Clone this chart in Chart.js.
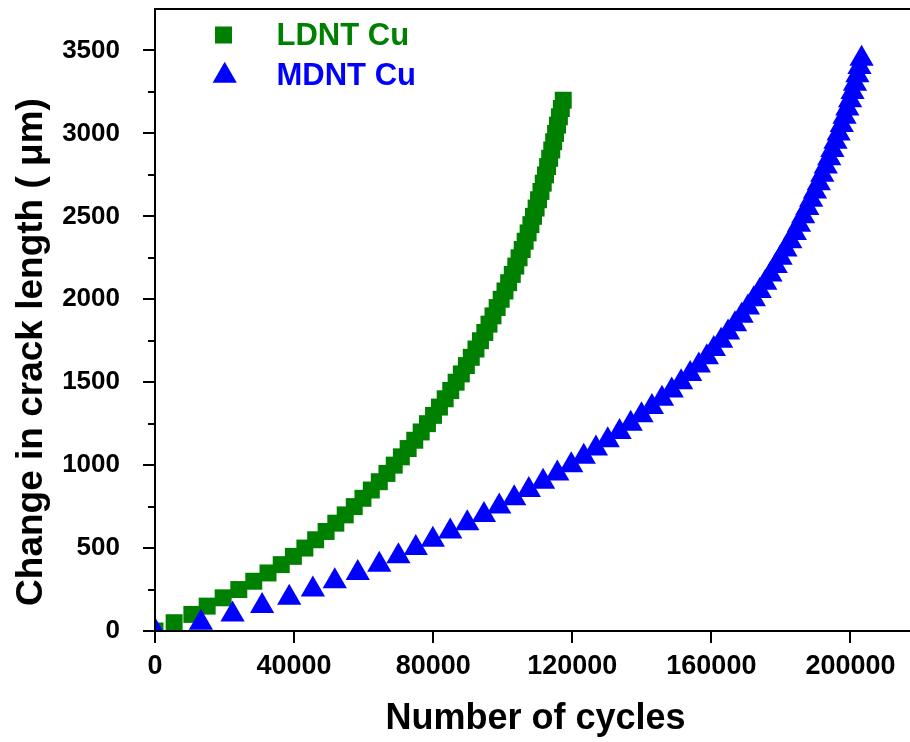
<!DOCTYPE html>
<html>
<head>
<meta charset="utf-8">
<script src="https://cdn.jsdelivr.net/npm/chart.js@4/dist/chart.umd.min.js"></script>
<style>
  html, body { margin: 0; padding: 0; background: #fff; overflow: hidden; }
  canvas { display: block; }
</style>
</head>
<body>
<canvas id="c" width="920" height="742"></canvas>
<script>
// Crack length change (µm) against number of cycles for two Cu conditions
const ldntCrack = [
  0, 50, 100, 150, 200, 250, 300, 350, 400, 450,
  500, 550, 600, 650, 700, 750, 800, 850, 900, 950,
  1000, 1050, 1100, 1150, 1200, 1250, 1300, 1350, 1400, 1450,
  1500, 1550, 1600, 1650, 1700, 1750, 1800, 1850, 1900, 1950,
  2000, 2050, 2100, 2150, 2200, 2250, 2300, 2350, 2400, 2450,
  2500, 2550, 2600, 2650, 2700, 2750, 2800, 2850, 2900, 2950,
  3000, 3050, 3100, 3150, 3200
];
const ldntCycles = [
  0, 5500, 10600, 15000, 19600, 24100, 28400, 32500, 36300, 39800,
  43100, 46200, 49200, 52000, 54700, 57300, 59800, 62200, 64500, 66700,
  68800, 70850, 72800, 74700, 76550, 78350, 80100, 81800, 83450, 85050,
  86600, 88100, 89550, 90950, 92300, 93600, 94850, 96050, 97200, 98400,
  99550, 100650, 101700, 102750, 103750, 104700, 105600, 106450, 107300, 108100,
  108850, 109600, 110300, 111000, 111650, 112300, 112900, 113500, 114100, 114650,
  115200, 115750, 116300, 116850, 117400
];
const mdntCrack = [
  0, 50, 100, 150, 200, 250, 300, 350, 400, 450,
  500, 550, 600, 650, 700, 750, 800, 850, 900, 950,
  1000, 1050, 1100, 1150, 1200, 1250, 1300, 1350, 1400, 1450,
  1500, 1550, 1600, 1650, 1700, 1750, 1800, 1850, 1900, 1950,
  2000, 2050, 2100, 2150, 2200, 2250, 2300, 2350, 2400, 2450,
  2500, 2550, 2600, 2650, 2700, 2750, 2800, 2850, 2900, 2950,
  3000, 3050, 3100, 3150, 3200, 3250, 3300, 3350, 3400, 3450
];
const mdntCycles = [
  0, 13200, 22300, 30800, 38600, 45400, 51700, 58300, 64500, 70000,
  75000, 79900, 84900, 89800, 94600, 99000, 103300, 107500, 111600, 115700,
  119700, 123300, 126800, 130200, 133600, 136800, 139900, 142900, 145800, 148600,
  151300, 153900, 156400, 158700, 160700, 162800, 164800, 166800, 168700, 170500,
  172200, 173900, 175500, 177000, 178500, 179900, 181300, 182700, 184000, 185200,
  186400, 187600, 188700, 189800, 190900, 191900, 192900, 193900, 194800, 195700,
  196600, 197500, 198300, 199100, 199900, 200600, 201300, 202000, 202600, 203200
];

const xTickValues = [0, 40000, 80000, 120000, 160000, 200000];
const yTickValues = [0, 500, 1000, 1500, 2000, 2500, 3000, 3500];
const yMinorValues = [250, 750, 1250, 1750, 2250, 2750, 3250];

const seriesNames = ['LDNT Cu', 'MDNT Cu'];
const xTitle = 'Number of cycles';
const yTitle = 'Change in crack length ( \u03bcm)';

const GREEN = '#008000';
const BLUE = '#0000ff';
const FONT = '"Liberation Sans", Arial, sans-serif';

const toPoints = (xs, ys) => xs.map((x, i) => ({ x: x, y: ys[i] }));

// Frame, tick marks, axis titles and the inset legend
const framePlugin = {
  id: 'frame',
  afterDraw(chart) {
    const ctx = chart.ctx;
    const area = chart.chartArea;
    const xs = chart.scales.x;
    const ys = chart.scales.y;
    ctx.save();
    ctx.strokeStyle = '#000';
    ctx.lineWidth = 2;
    ctx.beginPath();
    ctx.moveTo(area.left, area.top);
    ctx.lineTo(area.right, area.top);
    ctx.moveTo(area.left, area.top - 1);
    ctx.lineTo(area.left, area.bottom + 1);
    ctx.moveTo(area.left - 1, area.bottom);
    ctx.lineTo(area.right, area.bottom);
    // x ticks
    xTickValues.forEach(v => {
      const px = Math.round(xs.getPixelForValue(v));
      ctx.moveTo(px, area.bottom);
      ctx.lineTo(px, area.bottom + 12);
    });
    // y ticks, major and minor
    yTickValues.forEach(v => {
      const py = Math.round(ys.getPixelForValue(v));
      ctx.moveTo(area.left - 12, py);
      ctx.lineTo(area.left, py);
    });
    yMinorValues.forEach(v => {
      const py = Math.round(ys.getPixelForValue(v));
      ctx.moveTo(area.left - 7, py);
      ctx.lineTo(area.left, py);
    });
    ctx.stroke();

    // axis titles
    ctx.fillStyle = '#000';
    ctx.font = 'bold 36px ' + FONT;
    ctx.textAlign = 'center';
    ctx.textBaseline = 'alphabetic';
    ctx.fillText(xTitle, (area.left + area.right) / 2 - 2, 729);
    ctx.save();
    ctx.translate(42, 352);
    ctx.rotate(-Math.PI / 2);
    ctx.font = 'bold 37px ' + FONT;
    ctx.fillText(yTitle, 0, 0);
    ctx.restore();

    // legend
    ctx.fillStyle = GREEN;
    ctx.fillRect(215, 26.5, 17, 17);
    ctx.fillStyle = BLUE;
    ctx.beginPath();
    ctx.moveTo(224.7, 61.7);
    ctx.lineTo(236.8, 82.7);
    ctx.lineTo(212.6, 82.7);
    ctx.closePath();
    ctx.fill();
    ctx.font = 'bold 31px ' + FONT;
    ctx.textAlign = 'left';
    ctx.fillStyle = GREEN;
    ctx.fillText(seriesNames[0], 276.5, 45);
    ctx.fillStyle = BLUE;
    ctx.fillText(seriesNames[1], 276.5, 85);
    ctx.restore();
  }
};

new Chart(document.getElementById('c'), {
  type: 'scatter',
  data: {
    datasets: [
      {
        label: seriesNames[0],
        data: toPoints(ldntCycles, ldntCrack),
        pointStyle: 'rect',
        pointRadius: 12,
        pointBorderWidth: 0,
        backgroundColor: GREEN,
        borderColor: GREEN,
        clip: 0,
        order: 1
      },
      {
        label: seriesNames[1],
        data: toPoints(mdntCycles, mdntCrack),
        pointStyle: 'triangle',
        pointRadius: 14,
        pointBorderWidth: 0,
        backgroundColor: BLUE,
        borderColor: BLUE,
        clip: 0,
        order: 0
      }
    ]
  },
  options: {
    responsive: false,
    animation: false,
    events: [],
    layout: { autoPadding: false, padding: { top: 9, left: 0, right: 0, bottom: 0 } },
    plugins: { legend: { display: false }, tooltip: { enabled: false } },
    scales: {
      x: {
        type: 'linear',
        min: 0,
        max: 220000,
        afterBuildTicks(axis) { axis.ticks = xTickValues.map(v => ({ value: v })); },
        afterFit(axis) {
          axis.height = 742 - 631;
          axis.paddingLeft = 0;
          axis.paddingRight = 0;
        },
        grid: { display: false },
        border: { display: false },
        ticks: {
          autoSkip: false,
          maxRotation: 0,
          padding: 11,
          color: '#000',
          font: { family: FONT, weight: 'bold', size: 27 },
          callback: v => String(v)
        }
      },
      y: {
        type: 'linear',
        min: 0,
        max: 3750,
        afterBuildTicks(axis) { axis.ticks = yTickValues.map(v => ({ value: v })); },
        afterFit(axis) {
          axis.width = 155;
          axis.paddingTop = 0;
          axis.paddingBottom = 0;
        },
        grid: { display: false },
        border: { display: false },
        ticks: {
          autoSkip: false,
          padding: 27,
          color: '#000',
          font: { family: FONT, weight: 'bold', size: 26 },
          callback: v => String(v)
        }
      }
    }
  },
  plugins: [framePlugin]
});
</script>
</body>
</html>
